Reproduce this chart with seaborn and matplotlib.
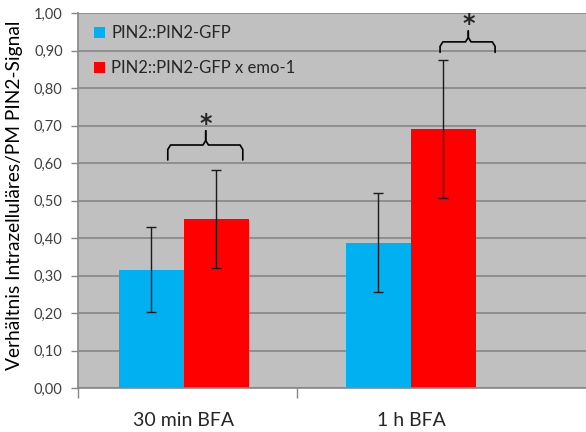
import numpy as np
import pandas as pd
import matplotlib
matplotlib.use("Agg")
import matplotlib.pyplot as plt
import seaborn as sns

# data
zeiten = ["30 min BFA", "1 h BFA"]
linien = ["PIN2::PIN2-GFP", "PIN2::PIN2-GFP x emo-1"]
mittel_gfp = [0.316, 0.387]
mittel_emo = [0.450, 0.690]
fehler_gfp = [0.113, 0.132]
fehler_emo = [0.131, 0.184]
sterne = ["*", "*"]

farben = ["#00B0F0", "#FF0000"]

df = pd.DataFrame({
    "Zeit": zeiten * 2,
    "Linie": [linien[0]] * 2 + [linien[1]] * 2,
    "Wert": mittel_gfp + mittel_emo,
})
fehler = [fehler_gfp, fehler_emo]

sns.set_style("white")
plt.rcParams["font.family"] = ["Lato", "DejaVu Sans"]

fig = plt.figure(figsize=(5.86, 4.32), dpi=100)
ax = fig.add_axes([78 / 586, 44 / 432, 1 - 78 / 586, (388 - 13) / 432])
ax.set_facecolor("#C0C0C0")

sns.barplot(data=df, x="Zeit", y="Wert", hue="Linie", palette=farben,
            width=0.572, gap=0, saturation=1, errorbar=None, ax=ax,
            linewidth=0, zorder=2)

# error bars on top of each bar
for cont, err in zip(ax.containers, fehler):
    xs = [p.get_x() + p.get_width() / 2 for p in cont]
    hs = [p.get_height() for p in cont]
    ax.errorbar(xs, hs, yerr=err, fmt="none", ecolor="#1a1a1a",
                elinewidth=1, capsize=3.5, capthick=1, zorder=3)


def klammer(ax, x0, x1, xm, y_end, y_bar, y_peak, dx=0.012, dy=0.012):
    # curly brace: left half up to the peak, then right half down
    links_x = [x0, x0, x0 + dx, xm - dx, xm, xm]
    links_y = [y_end, y_bar - dy, y_bar, y_bar, y_bar + dy, y_peak]
    rechts_x = [xm, xm, xm + dx, x1 - dx, x1, x1]
    rechts_y = [y_peak, y_bar + dy, y_bar, y_bar, y_bar - dy, y_end]
    for xs, ys in [(links_x, links_y), (rechts_x, rechts_y)]:
        ax.plot(xs, ys, color="black", lw=1.2, solid_joinstyle="round", zorder=4)


# significance braces (relative to group centre)
klammer(ax, -0.070, 0.260, 0.097, 0.608, 0.648, 0.686)
ax.text(0.097, 0.703, sterne[0], ha="center", va="center", fontsize=17,
        fontweight="bold", family="DejaVu Sans", zorder=4)
klammer(ax, 1 + 0.128, 1 + 0.370, 1 + 0.252, 0.895, 0.923, 0.952)
ax.text(1 + 0.252, 0.970, sterne[1], ha="center", va="center", fontsize=17,
        fontweight="bold", family="DejaVu Sans", zorder=4)

ax.set_ylim(0, 1.0)
ax.set_xlim(-0.465, 1.77)
ax.set_yticks(np.arange(0, 1.01, 0.1))
ax.set_yticklabels([f"{v:.2f}".replace(".", ",") for v in np.arange(0, 1.01, 0.1)],
                   fontsize=10.5, color="#404040")
ax.yaxis.grid(True, color="#878787", lw=1.2, zorder=0)
ax.set_axisbelow(True)
ax.tick_params(axis="y", left=True, length=5, width=1, color="#878787", pad=6)
ax.tick_params(axis="x", length=0, pad=17, labelsize=14)
ax.set_xticks([-0.465, 0.5], minor=True)
ax.tick_params(axis="x", which="minor", bottom=True, length=7, width=1, color="#878787")

ax.set_xlabel("")
ax.set_ylabel("Verhältnis Intrazelluläres/PM PIN2-Signal", fontsize=13.8,
              color="black")
ax.yaxis.set_label_coords(-0.108, 0.515)

for s in ["top", "right"]:
    ax.spines[s].set_visible(False)
for s in ["left", "bottom"]:
    ax.spines[s].set_color("#878787")
    ax.spines[s].set_linewidth(1.2)

handles, labels = ax.get_legend_handles_labels()
ax.legend(handles, labels, loc="upper left", bbox_to_anchor=(0.018, 0.985),
          frameon=False, fontsize=12, handlelength=0.7, handleheight=0.7,
          handletextpad=0.35, labelspacing=1.15, borderaxespad=0)

fig.savefig("out.png", dpi=100)
